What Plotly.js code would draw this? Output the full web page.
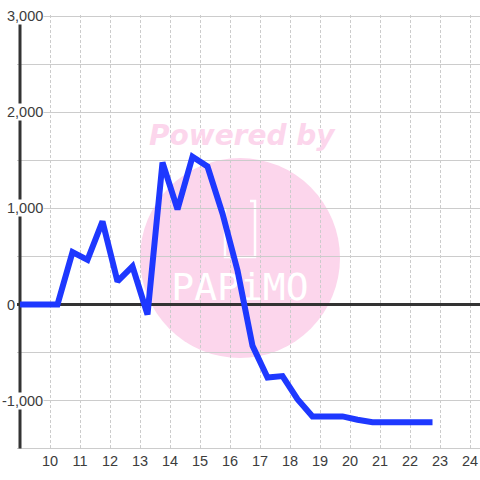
<!DOCTYPE html>
<html>
<head>
<meta charset="utf-8">
<script src="https://cdn.plot.ly/plotly-3.0.1.min.js"></script>
<style>html,body{margin:0;padding:0;background:#fff;}#chart{width:480px;height:480px;}</style>
</head>
<body>
<div id="chart"></div>
<script>
// ---- data (hour of day, balance) ----
const hours = [9.0, 9.25, 9.75, 10.25, 10.75, 11.25, 11.75, 12.25, 12.75, 13.25, 13.75, 14.25, 14.75,
  15.25, 15.75, 16.25, 16.75, 17.25, 17.75, 18.25, 18.75, 19.25, 19.75, 20.25, 20.75, 21.25, 21.75, 22.25, 22.75];
const values = [0, 0, 0, 0, 545, 465, 865, 240, 396, -104, 1479, 990, 1540,
  1437, 948, 354, -430, -760, -745, -985, -1165, -1165, -1165, -1200, -1225, -1225, -1225, -1225, -1225];

const xTickVals = [10, 11, 12, 13, 14, 15, 16, 17, 18, 19, 20, 21, 22, 23, 24];
const xTickText = ["10", "11", "12", "13", "14", "15", "16", "17", "18", "19", "20", "21", "22", "23", "24"];
const yTickVals = [3000, 2000, 1000, 0, -1000];
const yTickText = ["3,000", "2,000", "1,000", "0", "-1,000"];

const watermarkTop = "Powered by";
const watermarkLogo = "PAPiMO";

// ---- layout helpers (pixel -> paper) ----
const L = 17, T = 15, W = 463, H = 435;
const px = x => (x - L) / W;
const py = y => (T + H - y) / H;

const labelFont = {family: "Liberation Sans, Arial, sans-serif", size: 14.5, color: "#3c3c3c"};

const annotations = yTickVals.map((v, i) => ({
  xref: "paper", yref: "y",
  x: yTickText[i] === "0" ? px(16) : px(43.5),
  y: v, xanchor: "right", yanchor: "middle",
  text: yTickText[i], showarrow: false,
  font: labelFont, bgcolor: "#ffffff", borderpad: 0
}));
annotations.push({
  xref: "paper", yref: "paper", x: px(242), y: py(135),
  xanchor: "center", yanchor: "middle", showarrow: false,
  text: "<b><i>" + watermarkTop + "</i></b>",
  font: {family: "DejaVu Sans, sans-serif", size: 28, color: "#fcd6ec"}
});

const shapes = [
  {type: "circle", xref: "paper", yref: "paper", x0: px(140), x1: px(340), y0: py(358), y1: py(158),
   fillcolor: "#fcd6ec", line: {width: 0}, layer: "below"},
  {type: "path", xref: "paper", yref: "paper", layer: "below",
   path: `M ${px(225)},${py(208)} L ${px(225)},${py(257)} L ${px(255)},${py(257)} L ${px(255)},${py(201)} L ${px(250)},${py(201)}`,
   line: {color: "#ffffff", width: 2.5}},
  {type: "line", xref: "x", yref: "y", x0: 9, x1: 9, y0: -1500, y1: 3000,
   line: {color: "#333333", width: 3}, layer: "between"}
];

const traces = [
  {x: [16.33], y: [150], mode: "text", text: [watermarkLogo], textposition: "middle center",
   textfont: {family: "DejaVu Sans Mono, monospace", size: 38, color: "#ffffff"},
   hoverinfo: "skip", showlegend: false},
  {x: hours, y: values, mode: "lines", line: {color: "rgb(30,56,255)", width: 6},
   hoverinfo: "x+y", showlegend: false}
];

const layout = {
  width: 480, height: 480, autosize: false,
  margin: {l: L, r: 480 - L - W, t: T, b: 480 - T - H, pad: 0},
  paper_bgcolor: "#ffffff", plot_bgcolor: "rgba(0,0,0,0)",
  showlegend: false,
  xaxis: {
    range: [8.9, 24.333], tickmode: "array", tickvals: xTickVals, ticktext: xTickText,
    showgrid: true, gridcolor: "#cccccc", gridwidth: 1, griddash: "3px,2px",
    zeroline: false, showline: false, ticks: "", tickfont: labelFont, fixedrange: true
  },
  yaxis: {
    range: [-1515, 3015], tickmode: "linear", tick0: 0, dtick: 500,
    showticklabels: false, showgrid: true, gridcolor: "#cccccc", gridwidth: 1,
    zeroline: true, zerolinecolor: "#333333", zerolinewidth: 3,
    showline: false, ticks: "", fixedrange: true
  },
  shapes: shapes,
  annotations: annotations
};

Plotly.newPlot("chart", traces, layout, {displayModeBar: false, staticPlot: true});
</script>
</body>
</html>
